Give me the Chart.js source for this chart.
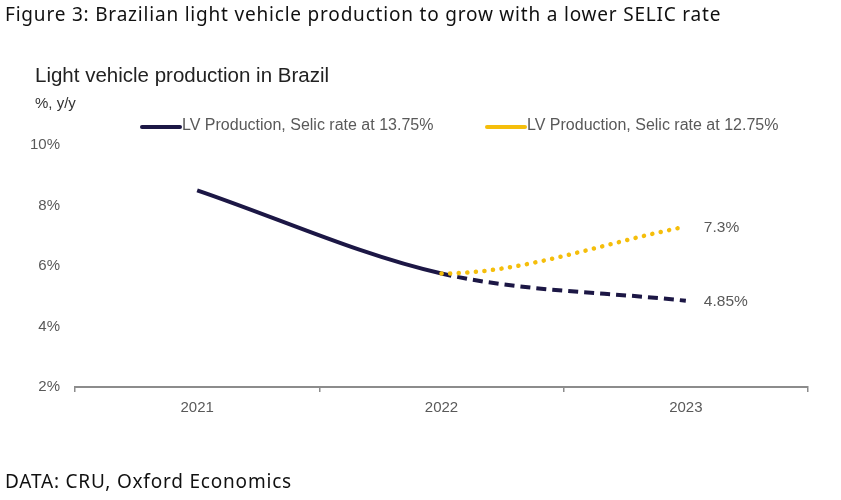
<!DOCTYPE html>
<html>
<head>
<meta charset="utf-8">
<script src="https://cdn.jsdelivr.net/npm/chart.js@4"></script>
<style>
  body { margin: 0; background: #fff; width: 841px; height: 500px; overflow: hidden; position: relative; }
  .fig { position: absolute; left: 5px; font-family: "Noto Sans", sans-serif; color: #111; font-size: 19px; letter-spacing: 0.8px; }
  #title { top: 1px; }
  #source { top: 468px; }
  #wrap { position: absolute; left: 0; top: 0; width: 841px; height: 500px; }
</style>
</head>
<body>
<div id="wrap"><canvas id="chart"></canvas></div>
<div class="fig" id="title">Figure 3: Brazilian light vehicle production to grow with a lower SELIC rate</div>
<div class="fig" id="source">DATA: CRU, Oxford Economics</div>
<script>
// datos
const years = ["2021", "2022", "2023"];
const selic1375 = [8.5, 5.75, 4.85];
const selic1275 = [8.5, 5.75, 7.3];
const yTicks = [2, 4, 6, 8, 10];
const seriesNames = ["LV Production, Selic rate at 13.75%", "LV Production, Selic rate at 12.75%"];
const endLabels = ["4.85%", "7.3%"];

const navy = "#1c1745";
const gold = "#f5be0b";
const grey = "#595959";
const arial = "'Liberation Sans', Arial, sans-serif";

// título, unidad, leyenda y etiquetas finales
const extras = {
  id: "extras",
  afterDatasetsDraw(chart) {
    const c = chart.ctx;
    c.save();
    c.fillStyle = "#222";
    c.font = "20.5px " + arial;
    c.textBaseline = "middle";
    c.fillText("Light vehicle production in Brazil", 35, 76);
    c.fillStyle = "#333";
    c.font = "15px " + arial;
    c.fillText("%, y/y", 35, 104);

    // leyenda
    const leg = [[140, navy, seriesNames[0]], [485, gold, seriesNames[1]]];
    c.font = "16px " + arial;
    leg.forEach(([x, col, txt]) => {
      c.strokeStyle = col;
      c.lineWidth = 4;
      c.lineCap = "round";
      c.beginPath();
      c.moveTo(x + 2, 127);
      c.lineTo(x + 40, 127);
      c.stroke();
      c.fillStyle = grey;
      c.fillText(txt, x + 42, 126);
    });

    // etiquetas al final de cada serie
    const xs = chart.scales.x, ys = chart.scales.y;
    const last = years.length - 1;
    c.fillStyle = grey;
    c.font = "15.5px " + arial;
    [selic1375, selic1275].forEach((s, i) => {
      c.fillText(endLabels[i], xs.getPixelForValue(last) + 18, ys.getPixelForValue(s[last]) + 1);
    });
    c.restore();
  }
};

document.addEventListener("DOMContentLoaded", function () {
  const ctx = document.getElementById("chart").getContext("2d");
  new Chart(ctx, {
    type: "line",
    data: {
      labels: years,
      datasets: [
        {
          label: seriesNames[1],
          data: selic1275,
          borderColor: gold,
          borderWidth: 4.5,
          borderCapStyle: "round",
          pointRadius: 0,
          cubicInterpolationMode: "monotone",
          segment: {
            borderColor: (s) => (s.p0DataIndex === 0 ? "rgba(0,0,0,0)" : gold),
            borderDash: () => [0.1, 8.5]
          }
        },
        {
          label: seriesNames[0],
          data: selic1375,
          borderColor: navy,
          borderWidth: 4,
          pointRadius: 0,
          cubicInterpolationMode: "monotone",
          segment: {
            borderDash: (s) => (s.p0DataIndex >= 1 ? [10, 6] : undefined)
          }
        }
      ]
    },
    options: {
      responsive: true,
      maintainAspectRatio: false,
      animation: false,
      layout: { padding: { top: 145, bottom: 83, right: 33, left: 0 } },
      plugins: { legend: { display: false }, tooltip: { enabled: false } },
      scales: {
        x: {
          offset: true,
          afterFit: (s) => { s.height = 30; },
          grid: { offset: true, drawOnChartArea: false, tickLength: 5, color: "#8c8c8c", lineWidth: 1.5 },
          border: { color: "#8c8c8c", width: 2 },
          ticks: { color: grey, font: { family: arial, size: 15 }, padding: 7 }
        },
        y: {
          min: 2,
          max: 10,
          afterFit: (s) => { s.width = 75; },
          afterBuildTicks: (s) => { s.ticks = yTicks.map((v) => ({ value: v })); },
          grid: { display: false, drawTicks: false },
          border: { display: false },
          ticks: {
            color: grey,
            padding: 15,
            font: { family: arial, size: 15 },
            callback: (v) => v + "%"
          }
        }
      }
    },
    plugins: [extras]
  });
});
</script>
</body>
</html>
